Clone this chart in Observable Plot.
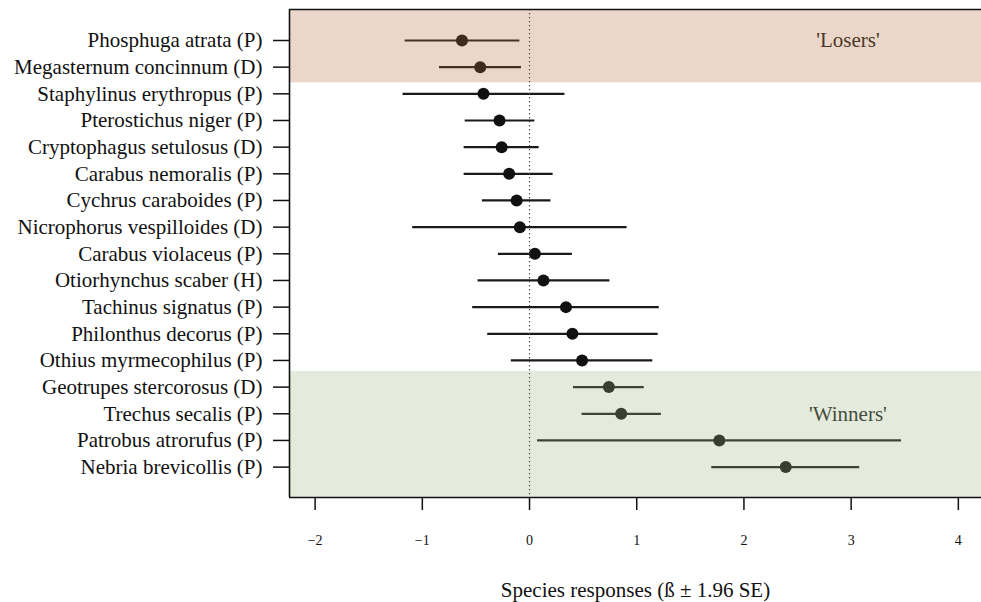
<!DOCTYPE html>
<html>
<head>
<meta charset="utf-8">
<script src="https://cdn.jsdelivr.net/npm/d3@7"></script>
<script src="https://cdn.jsdelivr.net/npm/@observablehq/plot@0.6"></script>
<style>
  html, body { margin: 0; padding: 0; background: white; }
</style>
</head>
<body>
<div id="chart"></div>
<script>
const species = [
  "Phosphuga atrata (P)",
  "Megasternum concinnum (D)",
  "Staphylinus erythropus (P)",
  "Pterostichus niger (P)",
  "Cryptophagus setulosus (D)",
  "Carabus nemoralis (P)",
  "Cychrus caraboides (P)",
  "Nicrophorus vespilloides (D)",
  "Carabus violaceus (P)",
  "Otiorhynchus scaber (H)",
  "Tachinus signatus (P)",
  "Philonthus decorus (P)",
  "Othius myrmecophilus (P)",
  "Geotrupes stercorosus (D)",
  "Trechus secalis (P)",
  "Patrobus atrorufus (P)",
  "Nebria brevicollis (P)"
];
const estimate = [-0.63, -0.46, -0.43, -0.28, -0.26, -0.19, -0.12, -0.09, 0.05, 0.13, 0.34, 0.40, 0.49, 0.74, 0.855, 1.77, 2.39];
const lower    = [-1.16, -0.84, -1.18, -0.60, -0.61, -0.61, -0.44, -1.09, -0.29, -0.48, -0.53, -0.39, -0.17, 0.41, 0.49, 0.075, 1.70];
const upper    = [-0.09, -0.075, 0.33, 0.05, 0.09, 0.22, 0.20, 0.91, 0.40, 0.75, 1.21, 1.20, 1.15, 1.07, 1.23, 3.47, 3.08];

const groupNames = ["'Losers'", "'Winners'"];
const groupFirstRow = [1, 14];
const groupLastRow = [2, 17];
const groupLabelRow = [1, 15];
const groupColors = ["rgb(180,112,62)", "rgb(159,184,130)"];

const xTicks = [-2, -1, 0, 1, 2, 3, 4];
const xTitle = "Species responses (ß ± 1.96 SE)";

const xDomain = [-2.239, 4.216];
const yDomain = [-0.1625, 18.14];

const rows = species.map((name, i) => ({
  name, pos: i + 1, est: estimate[i], lo: lower[i], hi: upper[i]
}));
const groups = groupNames.map((name, i) => ({
  name,
  y1: i === 0 ? yDomain[0] : groupFirstRow[i] - 0.59,
  y2: i === groupNames.length - 1 ? yDomain[1] : groupLastRow[i] + 0.586,
  labelRow: groupLabelRow[i],
  color: groupColors[i]
}));

const chart = Plot.plot({
  width: 981,
  height: 602,
  marginLeft: 289,
  marginRight: 0,
  marginTop: 9,
  marginBottom: 105,
  style: { fontFamily: "Liberation Serif", background: "white", color: "#111" },
  x: { domain: xDomain },
  y: { domain: yDomain, reverse: true },
  marks: [
    Plot.ruleY(rows, { y: "pos", x1: "lo", x2: "hi", stroke: "#1a1a1a", strokeWidth: 2.2 }),
    Plot.dot(rows, { x: "est", y: "pos", r: 6, fill: "#111", stroke: "none" }),
    Plot.text(groups, { x: () => 2.97, y: "labelRow", text: "name", fontSize: 21, fill: "#222" }),
    Plot.rect(groups, { x1: () => xDomain[0], x2: () => xDomain[1], y1: "y1", y2: "y2", fill: "color", fillOpacity: 0.28 }),
    Plot.ruleX([0], { stroke: "#444", strokeWidth: 1.2, strokeDasharray: "1.2,2.8" }),
    Plot.ruleX([xDomain[0]], { stroke: "#111", strokeWidth: 1.6 }),
    Plot.ruleY(yDomain, { stroke: "#111", strokeWidth: 1.6 }),
    Plot.axisY({
      ticks: rows.map(d => d.pos),
      tickFormat: p => species[p - 1],
      tickSize: 16,
      tickPadding: 11,
      fontSize: 21,
      strokeWidth: 1.5,
      label: null
    }),
    Plot.axisX({
      ticks: xTicks,
      tickFormat: d => (d < 0 ? "\u2212" + Math.abs(d) : String(d)),
      tickSize: 13,
      tickPadding: 25,
      fontSize: 14,
      strokeWidth: 1.5,
      label: null
    }),
    Plot.text([xTitle], { frameAnchor: "bottom", dy: 99, lineAnchor: "bottom", fontSize: 21, fill: "#111" })
  ]
});
document.getElementById("chart").appendChild(chart);
</script>
</body>
</html>
